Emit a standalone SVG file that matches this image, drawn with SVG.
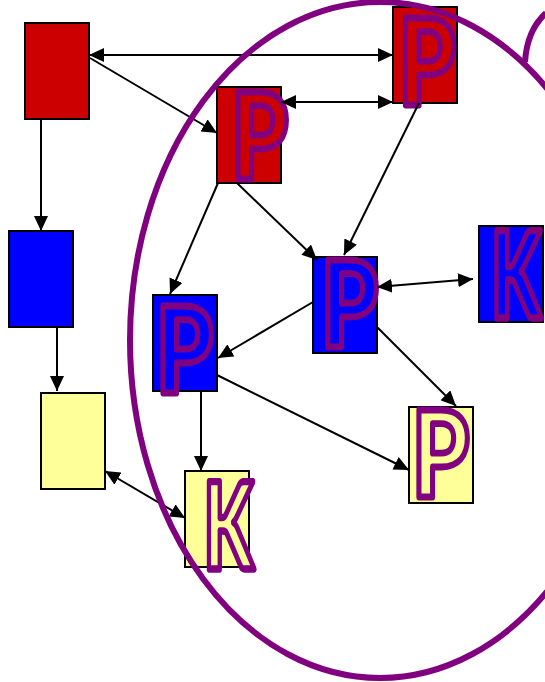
<svg xmlns="http://www.w3.org/2000/svg" width="545" height="682" viewBox="0 0 545 682">
<style>
.box{stroke:#000;stroke-width:2}
.red{fill:#CC0000}
.blue{fill:#0000FF}
.yel{fill:#FFFF99}
.lt{font-family:Lato,"Liberation Sans",Arial,sans-serif;font-weight:900;font-size:120px;stroke:#800080;stroke-width:6;stroke-linejoin:round;vector-effect:non-scaling-stroke}
.ln{stroke:#000;stroke-width:2;fill:none}
.one{marker-end:url(#ah)}
.two{marker-end:url(#ah);marker-start:url(#ah)}
.ring{fill:none;stroke:#800080;stroke-width:6}
</style>
<defs>
<marker id="ah" markerUnits="userSpaceOnUse" markerWidth="16" markerHeight="14" refX="15" refY="7" orient="auto-start-reverse" viewBox="0 0 16 14">
<path d="M0,0 L15,7 L0,14 z" fill="#000"/>
</marker>
</defs>
<g id="nodes">
<g id="n-red1"><rect class="box red" x="25" y="23" width="64" height="96"/></g>
<g id="n-blue-left"><rect class="box blue" x="9" y="231" width="64" height="96"/></g>
<g id="n-yellow-left"><rect class="box yel" x="41" y="393" width="64" height="96"/></g>
<g id="n-redP-top"><rect class="box red" x="393" y="7" width="64" height="96"/><text class="lt red" text-anchor="middle" transform="translate(427,104.5) scale(0.76,1)">P</text></g>
<g id="n-redP-mid"><rect class="box red" x="217" y="87" width="64" height="96"/><text class="lt red" text-anchor="middle" transform="translate(259.5,179) scale(0.76,1)">P</text></g>
<g id="n-blueP-center"><rect class="box blue" x="313" y="257" width="64" height="96"/><text class="lt blue" text-anchor="middle" transform="translate(349.5,347) scale(0.76,1)">P</text></g>
<g id="n-blueK"><rect class="box blue" x="479" y="226" width="64" height="96"/><text class="lt blue" text-anchor="middle" transform="translate(516,317.5) scale(0.6,1)">K</text></g>
<g id="n-blueP-left"><rect class="box blue" x="153" y="295" width="64" height="96"/><text class="lt blue" text-anchor="middle" transform="translate(184.5,392.5) scale(0.76,1)">P</text></g>
<g id="n-yellowK"><rect class="box yel" x="185" y="471" width="64" height="96"/><text class="lt yel" text-anchor="middle" transform="translate(228.5,569) scale(0.6,1)">K</text></g>
<g id="n-yellowP"><rect class="box yel" x="409" y="407" width="64" height="96"/><text class="lt yel" text-anchor="middle" transform="translate(440.5,496.5) scale(0.76,1)">P</text></g>
</g>
<g id="connectors">
<path class="ln two" d="M89,55 L393,55"/>
<path class="ln one" d="M90,58 L217,133"/>
<path class="ln two" d="M281,102 L393,102"/>
<path class="ln one" d="M41,119 L41,231"/>
<path class="ln one" d="M57,327 L57,391"/>
<path class="ln two" d="M105,471 L185,518"/>
<path class="ln one" d="M218,183 L170,294"/>
<path class="ln one" d="M237,183 L317,260"/>
<path class="ln one" d="M419,103 L344,255"/>
<path class="ln two" d="M377,287 L473,279"/>
<path class="ln one" d="M313,302 L218,358"/>
<path class="ln one" d="M377,327 L456,406"/>
<path class="ln one" d="M217,375 L409,470"/>
<path class="ln one" d="M201,391 L201,471"/>
</g>
<g id="groups">
<ellipse class="ring" cx="380" cy="340" rx="250" ry="338"/>
<path class="ring" d="M546,13 Q527,30 525,62"/>
</g>
</svg>
